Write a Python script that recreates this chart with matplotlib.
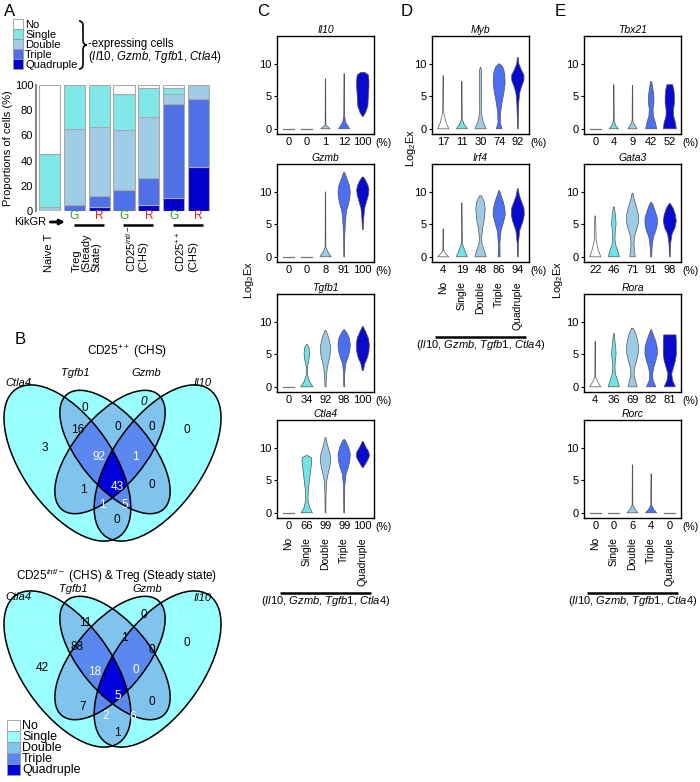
import numpy as np
import matplotlib
matplotlib.use('Agg')
import matplotlib.pyplot as plt
from matplotlib.patches import Ellipse, Rectangle, PathPatch
from matplotlib.path import Path
from matplotlib.colors import ListedColormap

plt.rcParams['font.family'] = ['Liberation Sans', 'DejaVu Sans']
plt.rcParams['mathtext.fontset'] = 'custom'
plt.rcParams['mathtext.rm'] = 'Liberation Sans'
plt.rcParams['mathtext.it'] = 'Liberation Sans:italic'

# ---- data ----
levels = ['No', 'Single', 'Double', 'Triple', 'Quadruple']

# panel A: proportions of cells (%)
bar_groups = ['Naive T', 'Treg G', 'Treg R', 'CD25int G', 'CD25int R', 'CD25++ G', 'CD25++ R']
kik = ['', 'G', 'R', 'G', 'R', 'G', 'R']
pct_quad = [0, 0, 3, 0, 5, 10, 35]
pct_triple = [0, 5, 9, 17, 21, 75, 54]
pct_double = [3, 60, 55, 47, 49, 8, 11]
pct_single = [42, 35, 33, 29, 23, 5, 0]
pct_no = [55, 0, 0, 7, 2, 2, 0]

# panel B: venn counts
venn_regions = ['C', 'T', 'G', 'I', 'CT', 'TG', 'GI', 'CTG', 'TGI', 'CTGI', 'CG', 'TI', 'CGI', 'CTI', 'CI']
venn_top = [3, 0, 0, 0, 16, 0, 0, 92, 1, 43, 1, 0, 1, 5, 0]
venn_bottom = [42, 11, 0, 0, 88, 1, 0, 18, 0, 5, 7, 0, 2, 6, 1]
venn_sets = ['Ctla4', 'Tgfb1', 'Gzmb', 'Il10']

# panels C-E: % expressing and violin outlines (y, half width)
pct = {
    'Il10': [0, 0, 1, 12, 100], 'Gzmb': [0, 0, 8, 91, 100],
    'Tgfb1': [0, 34, 92, 98, 100], 'Ctla4': [0, 66, 99, 99, 100],
    'Myb': [17, 11, 30, 74, 92], 'Irf4': [4, 19, 48, 86, 94],
    'Tbx21': [0, 4, 9, 42, 52], 'Gata3': [22, 46, 71, 91, 98],
    'Rora': [4, 36, 69, 82, 81], 'Rorc': [0, 0, 6, 4, 0],
}
flat = ([0], [0.3])
violins = {
    'Il10': [flat, flat,
             ([0, 0.6, 7.7], [0.25, 0.02, 0.01]),
             ([0, 1.0, 2.0, 8.5], [0.3, 0.08, 0.02, 0.01]),
             ([1.9, 2.5, 3.5, 5, 6.5, 7.5, 8.3, 8.7], [0.02, 0.15, 0.27, 0.3, 0.33, 0.33, 0.3, 0.1])],
    'Gzmb': [flat, flat,
             ([0, 0.8, 1.5, 10], [0.3, 0.12, 0.02, 0.01]),
             ([0, 3, 5, 7, 8, 9, 10, 11, 12, 13], [0.02, 0.03, 0.06, 0.12, 0.22, 0.3, 0.33, 0.28, 0.15, 0.03]),
             ([4.2, 6, 7.5, 8.5, 9.5, 10.3, 11, 11.8, 12.3], [0.02, 0.05, 0.1, 0.2, 0.3, 0.33, 0.28, 0.15, 0.03])],
    'Tgfb1': [flat,
              ([0, 0.8, 1.8, 3, 4, 5, 6, 6.5], [0.33, 0.15, 0.03, 0.03, 0.1, 0.15, 0.12, 0.03]),
              ([0, 1, 2, 3, 4, 5, 6, 7, 8, 8.7], [0.03, 0.04, 0.06, 0.1, 0.18, 0.25, 0.28, 0.22, 0.12, 0.02]),
              ([0, 2, 3.5, 4.5, 5.5, 6.5, 7.5, 8.3, 8.8], [0.02, 0.03, 0.08, 0.2, 0.3, 0.33, 0.28, 0.15, 0.02]),
              ([2.5, 3.5, 4.5, 5.5, 6.5, 7.5, 8.5, 9.3], [0.03, 0.1, 0.25, 0.33, 0.35, 0.3, 0.15, 0.02])],
    'Ctla4': [flat,
              ([0, 0.8, 2, 3.5, 5, 6.5, 7.5, 8.5, 8.8], [0.3, 0.15, 0.06, 0.08, 0.14, 0.2, 0.25, 0.25, 0.05]),
              ([0, 3, 5, 6, 7, 8, 9, 10, 11, 11.6], [0.02, 0.03, 0.07, 0.14, 0.22, 0.28, 0.25, 0.15, 0.06, 0.02]),
              ([0, 4, 6, 7, 8, 9, 10, 11, 11.3], [0.02, 0.03, 0.1, 0.22, 0.3, 0.33, 0.25, 0.1, 0.02]),
              ([7, 7.8, 8.5, 9, 9.5, 10.2, 11], [0.03, 0.2, 0.33, 0.35, 0.3, 0.15, 0.02])],
    'Myb': [([0, 1, 2.5, 8.2], [0.3, 0.15, 0.03, 0.01]),
            ([0, 0.7, 1.5, 7.3], [0.3, 0.12, 0.02, 0.01]),
            ([0, 1, 2.5, 4, 9, 9.5], [0.3, 0.15, 0.04, 0.05, 0.05, 0.01]),
            ([0, 1, 2.5, 4, 5.5, 7, 8.5, 9.5, 10], [0.15, 0.06, 0.08, 0.15, 0.25, 0.32, 0.3, 0.2, 0.03]),
            ([0, 2, 4, 5.5, 6.5, 7.5, 8.3, 9, 10, 11], [0.02, 0.03, 0.05, 0.1, 0.2, 0.33, 0.33, 0.2, 0.06, 0.02])],
    'Irf4': [([0, 0.5, 1, 4.3], [0.3, 0.12, 0.02, 0.01]),
             ([0, 1, 2, 8.3], [0.3, 0.15, 0.03, 0.01]),
             ([0, 1, 2, 3, 4.5, 6, 7.5, 8.5, 9.4], [0.3, 0.2, 0.08, 0.06, 0.12, 0.22, 0.25, 0.2, 0.05]),
             ([0, 2, 4, 5.5, 6.5, 7.5, 8.5, 9.5, 10.2], [0.05, 0.04, 0.1, 0.25, 0.33, 0.3, 0.22, 0.1, 0.02]),
             ([0, 2, 4, 5.5, 6.5, 7.5, 8.5, 9.5, 10.5], [0.02, 0.03, 0.1, 0.28, 0.35, 0.33, 0.2, 0.08, 0.02])],
    'Tbx21': [flat,
              ([0, 0.5, 1.2, 6.8], [0.25, 0.1, 0.02, 0.01]),
              ([0, 0.6, 1.3, 6.7], [0.25, 0.1, 0.02, 0.01]),
              ([0, 1, 2, 3, 4, 5, 6, 7, 7.3], [0.3, 0.22, 0.12, 0.1, 0.15, 0.15, 0.1, 0.05, 0.02]),
              ([0, 1, 2, 3, 4, 5, 6, 6.8], [0.35, 0.3, 0.2, 0.2, 0.25, 0.25, 0.22, 0.15])],
    'Gata3': [([0, 1, 2.5, 6.3], [0.3, 0.17, 0.05, 0.02]),
              ([0, 1, 2, 3, 4, 5, 6, 7, 7.7], [0.3, 0.2, 0.08, 0.06, 0.08, 0.12, 0.1, 0.06, 0.02]),
              ([0, 1, 2, 3, 4, 5, 6, 7, 8, 9, 9.8], [0.15, 0.1, 0.08, 0.1, 0.2, 0.3, 0.33, 0.28, 0.18, 0.08, 0.02]),
              ([0, 1.5, 3, 4, 5, 6, 7, 8, 8.4], [0.03, 0.05, 0.12, 0.25, 0.33, 0.33, 0.22, 0.1, 0.02]),
              ([0, 2, 3.5, 4.5, 5.5, 6.5, 7.5, 8.2], [0.02, 0.04, 0.12, 0.28, 0.35, 0.3, 0.18, 0.03])],
    'Rora': [([0, 0.7, 1.5, 7], [0.3, 0.15, 0.02, 0.01]),
             ([0, 1, 2, 3, 4, 5, 6, 7, 8.2], [0.3, 0.2, 0.08, 0.06, 0.08, 0.12, 0.1, 0.06, 0.02]),
             ([0, 1, 2, 3, 4, 5, 6, 7, 8, 9], [0.25, 0.15, 0.08, 0.12, 0.22, 0.3, 0.33, 0.28, 0.2, 0.05]),
             ([0, 1, 2, 3, 4, 5, 6, 7, 8, 8.8], [0.25, 0.1, 0.08, 0.14, 0.25, 0.33, 0.33, 0.25, 0.12, 0.02]),
             ([0, 1, 2, 3, 4, 5, 6, 7, 8], [0.3, 0.15, 0.1, 0.2, 0.3, 0.35, 0.35, 0.35, 0.33])],
    'Rorc': [flat, flat,
             ([0, 0.6, 1.2, 7.4], [0.3, 0.12, 0.02, 0.01]),
             ([0, 0.6, 1.2, 6], [0.3, 0.12, 0.02, 0.01]),
             flat],
}
panel_genes = {'C': ['Il10', 'Gzmb', 'Tgfb1', 'Ctla4'],
               'D': ['Myb', 'Irf4'],
               'E': ['Tbx21', 'Gata3', 'Rora', 'Rorc']}

# ---- styles ----
bar_cols = {'No': 'white', 'Single': '#80e8e8', 'Double': '#a0cce8',
            'Triple': '#5070e8', 'Quadruple': '#0000cc'}
venn_cols = ['#99ffff', '#80c4ee', '#5a88f0', '#0000dd']
vio_cols = ['white', '#70e4e4', '#9dcbe6', '#4a6ff0', '#0a0acc']

W, H = 700, 782
fig = plt.figure(figsize=(7, 7.82), dpi=100)
ov = fig.add_axes([0, 0, 1, 1])


def px_axes(l, t, r, b):
    return fig.add_axes([l / W, 1 - b / H, (r - l) / W, (b - t) / H])


# ---- panel A ----
axA = px_axes(36, 85, 210, 211)
x = np.arange(len(bar_groups))
bottom = np.zeros(len(bar_groups))
stack = [('Quadruple', pct_quad), ('Triple', pct_triple), ('Double', pct_double),
         ('Single', pct_single), ('No', pct_no)]
for lev, vals in stack:
    vals = np.array(vals, dtype=float)
    m = vals > 0
    axA.bar(x[m], vals[m], 0.85, bottom=bottom[m], color=bar_cols[lev],
            edgecolor='#a8a8a8', linewidth=0.8)
    bottom += vals
axA.set_xlim(-0.54, 6.46)
axA.set_ylim(0, 100)
for s in ['top', 'right', 'bottom']:
    axA.spines[s].set_visible(False)
axA.spines['left'].set_color('#888888')
axA.spines['left'].set_linewidth(1.5)
axA.set_xticks([])
axA.set_yticks([0, 20, 40, 60, 80, 100])
axA.tick_params(axis='y', labelsize=8, length=0, pad=2)
axA.set_ylabel('Proportions of cells (%)', fontsize=8)
axA.yaxis.set_label_coords(-0.135, 0.5)
tx = axA.get_xaxis_transform()
for i, k in enumerate(kik):
    if k:
        axA.text(i, -0.04, k, transform=tx, ha='center', va='center', fontsize=8.5,
                 color='#3a9a20' if k == 'G' else '#e02020')
for i, j in [(1, 2), (3, 4), (5, 6)]:
    axA.plot([i - 0.02, j + 0.18], [-0.111, -0.111], transform=tx, color='k', lw=1.8,
             clip_on=False, solid_capstyle='butt')
group_labels = [(0, 'Naive T'), (1.5, 'Treg\n(Steady\nState)'),
                (3.5, 'CD25$^{int/-}$\n(CHS)'), (5.5, 'CD25$^{++}$\n(CHS)')]
for gx, lab in group_labels:
    axA.text(gx, -0.484, lab, transform=tx, rotation=90, ha='center', va='bottom',
             multialignment='left', fontsize=8, linespacing=1.0)
ov.annotate('KikGR', xy=(65, 222), xytext=(14, 222), va='center', ha='left', fontsize=8,
            arrowprops=dict(arrowstyle='-|>', lw=2, color='k', mutation_scale=7,
                            shrinkA=1, shrinkB=0))

# legend A
for i, lev in enumerate(levels):
    ov.add_patch(Rectangle((13, 19 + 10 * i), 10, 10, facecolor=bar_cols[lev],
                           edgecolor='#999999', lw=0.6))
    ov.text(25, 24.5 + 10 * i, lev, fontsize=8, va='center', ha='left')
x0, w, yt, yb, r = 79, 8, 21, 69, 5
ym = (yt + yb) / 2
verts = [(x0, yt), (x0 + w / 2, yt), (x0 + w / 2, yt + r), (x0 + w / 2, ym - r),
         (x0 + w / 2, ym), (x0 + w, ym), (x0 + w / 2, ym), (x0 + w / 2, ym + r),
         (x0 + w / 2, yb - r), (x0 + w / 2, yb), (x0, yb)]
codes = [Path.MOVETO, Path.CURVE3, Path.CURVE3, Path.LINETO, Path.CURVE3, Path.CURVE3,
         Path.CURVE3, Path.CURVE3, Path.LINETO, Path.CURVE3, Path.CURVE3]
ov.add_patch(PathPatch(Path(verts, codes), fill=False, lw=1.2, color='k'))
ov.text(88, 44, '-expressing cells', fontsize=8.3, va='center')
ov.text(88, 57, r'($\mathit{Il10}$, $\mathit{Gzmb}$, $\mathit{Tgfb1}$, $\mathit{Ctla4}$)',
        fontsize=8.3, va='center')

# ---- panel B: venn ----
ellipses = [(67.4, 463, 90, 45, 55), (115, 452, 75, 35, 50),
            (110, 452, 75, 35, 130), (157.6, 463, 90, 45, 125)]
top_pos = [(45, 448), (85, 408), (144, 402), (187, 430), (78, 430), (118, 427), (152, 427),
           (99, 457), (135, 457), (117, 487), (83, 490), (152, 485), (102, 505), (125, 505),
           (117, 520)]
bot_pos = [(42, 668), (85, 623), (144, 615), (187, 643), (77, 647), (124, 638), (152, 650),
           (95, 672), (136, 670), (118, 696), (83, 707), (152, 702), (106, 716), (133, 717),
           (117, 733)]
top_set_pos = [(18, 383), (75, 373), (146, 373), (203, 383)]
bot_set_pos = [(18, 597), (73, 589), (147, 589), (203, 598)]


def inside(X, Y, e, dy):
    cx, cy, a, b, ang = e
    t = np.deg2rad(ang)
    ddx, ddy = X - cx, Y - (cy + dy)
    u = ddx * np.cos(t) + ddy * np.sin(t)
    v = -ddx * np.sin(t) + ddy * np.cos(t)
    return (u / a) ** 2 + (v / b) ** 2 <= 1


cmapV = ListedColormap(venn_cols)
for dy, counts, pos, spos in [(0, venn_top, top_pos, top_set_pos),
                              (206, venn_bottom, bot_pos, bot_set_pos)]:
    gx = np.linspace(0, 230, 921)
    gy = np.linspace(370 + dy, 555 + dy, 741)
    X, Y = np.meshgrid(gx, gy)
    cnt = sum(inside(X, Y, e, dy).astype(int) for e in ellipses)
    ov.imshow(np.ma.masked_equal(cnt, 0), extent=(0, 230, 555 + dy, 370 + dy), origin='upper',
              cmap=cmapV, vmin=0.5, vmax=4.5, interpolation='antialiased', aspect='auto')
    for e in ellipses:
        ov.add_patch(Ellipse((e[0], e[1] + dy), 2 * e[2], 2 * e[3], angle=e[4], fill=False,
                             ec='k', lw=1.1))
    for reg, c, (px, py) in zip(venn_regions, counts, pos):
        col = 'white' if len(reg) >= 3 else 'black'
        style = 'italic' if (dy == 0 and reg == 'G') else 'normal'
        ov.text(px, py, str(c), color=col, fontsize=8.5, ha='center', va='center', style=style)
    for name, (px, py) in zip(venn_sets, spos):
        ov.text(px, py, name, style='italic', fontsize=8, ha='center', va='center')

ov.text(127, 352, 'CD25$^{++}$ (CHS)', fontsize=8.5, ha='center', va='center')
ov.text(117, 576, 'CD25$^{int/-}$ (CHS) & Treg (Steady state)', fontsize=8.5,
        ha='center', va='center')
for i, lev in enumerate(levels):
    ov.add_patch(Rectangle((7, 720 + 11 * i), 13, 11, facecolor=venn_cols[i - 1] if i else 'white',
                           edgecolor='#999999', lw=0.6))
    ov.text(22, 726 + 11 * i, lev, fontsize=9, va='center', ha='left')

# ---- panels C-E: violins ----
row_zero = [129, 257, 387, 513]
cols_px = {'C': (277, 374), 'D': (432, 529), 'E': (584, 681)}
ylab_pos = {'C': (249, 280), 'D': (411, 148), 'E': (558, 280)}
for pname, genes in panel_genes.items():
    l, rr = cols_px[pname]
    for ri, gene in enumerate(genes):
        y0 = row_zero[ri]
        ax = px_axes(l, y0 - 93, rr, y0 + 5)
        for vi, (ys, ws) in enumerate(violins[gene]):
            xc = vi + 1
            ys = np.array(ys, dtype=float)
            ws = np.array(ws, dtype=float)
            if len(ys) == 1:
                ax.plot([xc - ws[0], xc + ws[0]], [0, 0], color='#777777', lw=0.9)
            else:
                ax.fill(np.concatenate([xc - ws, (xc + ws)[::-1]]),
                        np.concatenate([ys, ys[::-1]]),
                        facecolor=vio_cols[vi], edgecolor='#555555', lw=0.5)
        ax.set_xlim(0.4, 5.6)
        ax.set_ylim(-0.8, 14.3)
        ax.set_yticks([0, 5, 10])
        ax.set_xticks(range(1, 6))
        ax.set_xticklabels([str(p) for p in pct[gene]])
        ax.tick_params(axis='y', labelsize=8, length=2.5, pad=1.5, width=0.8)
        ax.tick_params(axis='x', labelsize=8, length=0, pad=2.5)
        for s in ax.spines.values():
            s.set_linewidth(1.0)
        ax.set_title(gene, style='italic', fontsize=7.5, pad=2)
        ov.text(rr + 1, y0 + 14, '(%)', fontsize=7.5, ha='left', va='center')
        if ri == len(genes) - 1:
            t2 = ax.get_xaxis_transform()
            for vi, lev in enumerate(levels):
                ax.text(vi + 1, -0.194, lev, transform=t2, rotation=90, ha='center',
                        va='top', fontsize=7.5)
            ax.plot([0.55, 5.45], [-0.77, -0.77], transform=t2, color='k', lw=1.8,
                    clip_on=False, solid_capstyle='butt')
            ax.text(3.0, -0.85, r'($\mathit{Il10}$, $\mathit{Gzmb}$, $\mathit{Tgfb1}$, $\mathit{Ctla4}$)',
                    transform=t2, ha='center', va='center', fontsize=8)
    ov.text(*ylab_pos[pname], 'Log$_2$Ex', rotation=90, fontsize=8, ha='center', va='center')

for letter, (px, py) in {'A': (10, 12), 'B': (20, 340), 'C': (263, 11),
                         'D': (407, 11), 'E': (560, 11)}.items():
    ov.text(px, py, letter, fontsize=12, ha='center', va='center')

ov.set_xlim(0, W)
ov.set_ylim(H, 0)
ov.set_aspect('auto')
ov.axis('off')

fig.savefig('out.png', dpi=100)
